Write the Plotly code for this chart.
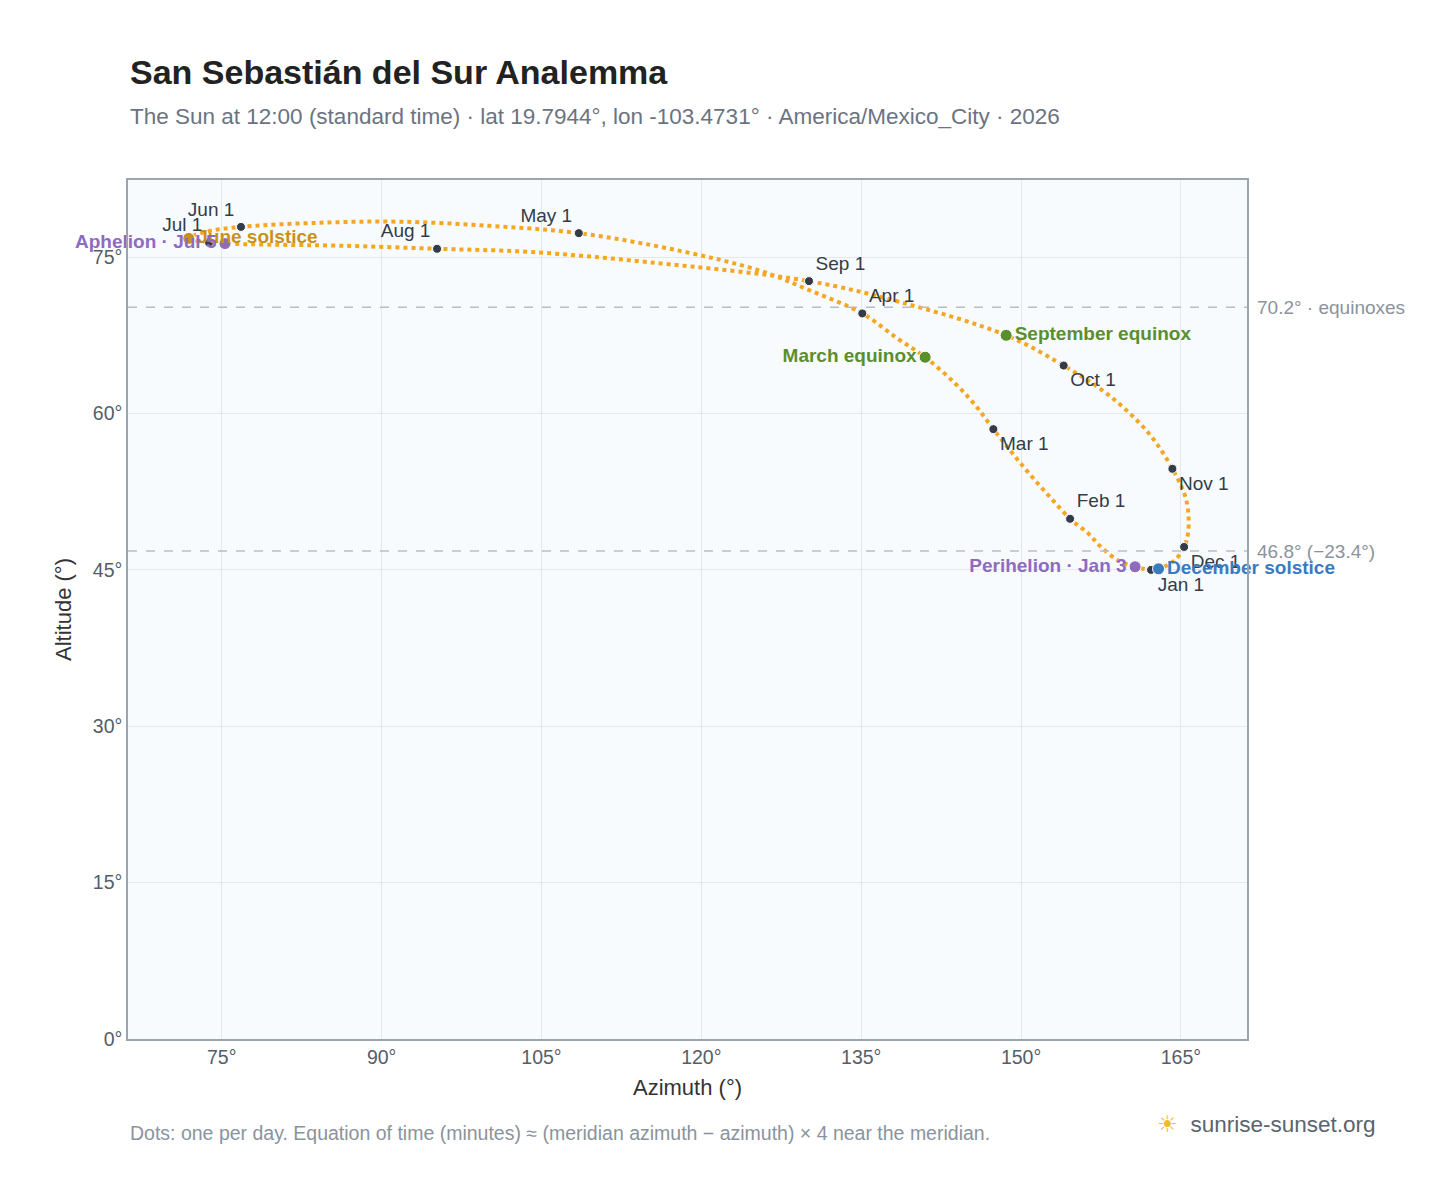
import plotly.graph_objects as go

# sun position at 12:00 (roughly weekly)
path_az = [162.2, 160.7, 159.1, 157.4, 156.3, 154.6, 152.7, 150.8, 149.1, 147.4, 145.7, 143.8, 141.0,
           138.4, 135.1, 130.2, 125.5, 118.0, 108.5, 100.2, 91.7, 84.2, 76.8, 73.4, 71.9, 73.8, 75.3,
           79.5, 86.1, 95.2, 103.9, 115.2, 130.1, 138.6, 148.6, 154.0, 158.3, 161.9, 164.2, 165.5,
           165.7, 165.3, 164.4, 162.9, 162.2]
path_alt = [45.0, 45.3, 45.9, 47.3, 48.5, 49.9, 52.0, 54.2, 56.3, 58.5, 60.8, 62.9, 65.4,
            67.2, 69.6, 71.8, 73.7, 75.6, 77.3, 78.0, 78.4, 78.3, 77.9, 77.4, 76.8, 76.4, 76.3,
            76.2, 76.1, 75.8, 75.5, 74.5, 72.7, 70.7, 67.5, 64.6, 61.7, 58.2, 54.7, 51.7,
            48.8, 47.2, 45.9, 45.1, 45.0]

months = ["Jan 1", "Feb 1", "Mar 1", "Apr 1", "May 1", "Jun 1", "Jul 1", "Aug 1", "Sep 1", "Oct 1", "Nov 1", "Dec 1"]
month_az = [162.2, 154.6, 147.4, 135.1, 108.5, 76.8, 73.8, 95.2, 130.1, 154.0, 164.2, 165.3]
month_alt = [45.0, 49.9, 58.5, 69.6, 77.3, 77.9, 76.4, 75.8, 72.7, 64.6, 54.7, 47.2]
month_pos = ["bottom right", "top right", "bottom right", "top right", "top left", "top left",
             "top left", "top left", "top right", "bottom right", "bottom right", "bottom right"]

events = ["March equinox", "June solstice", "September equinox", "December solstice", "Perihelion · Jan 3", "Aphelion · Jul 5"]
event_az = [141.0, 71.9, 148.6, 162.9, 160.7, 75.3]
event_alt = [65.4, 76.8, 67.5, 45.1, 45.3, 76.3]
event_col = ["#5a8f2e", "#c8921a", "#5a8f2e", "#3a7abf", "#8e6bbf", "#8e6bbf"]
event_pos = ["middle left", "middle right", "middle right", "middle right", "middle left", "middle left"]

x_ticks = [75, 90, 105, 120, 135, 150, 165]
y_ticks = [0, 15, 30, 45, 60, 75]

fig = go.Figure()
fig.add_trace(go.Scatter(x=path_az, y=path_alt, mode="lines", line=dict(color="#f5a623", width=4, dash="dot", shape="spline"),
                         hoverinfo="skip", showlegend=False))
fig.add_trace(go.Scatter(x=month_az, y=month_alt, mode="markers+text", text=months, textposition=month_pos,
                         marker=dict(color="#333c48", size=9, line=dict(color="white", width=1)),
                         textfont=dict(size=19, color="#333c48"), cliponaxis=False, showlegend=False))
fig.add_trace(go.Scatter(x=event_az, y=event_alt, mode="markers+text", text=["<b>%s</b>" % e for e in events],
                         textposition=event_pos, marker=dict(color=event_col, size=12, line=dict(color="white", width=1)),
                         textfont=dict(size=19, color=event_col), cliponaxis=False, showlegend=False))

for val, lbl in [(70.2, "70.2° · equinoxes"), (46.8, "46.8° (−23.4°)")]:
    fig.add_hline(y=val, line=dict(color="#b5bec8", width=1.5, dash="dash"))
    fig.add_annotation(x=1, xref="paper", y=val, text=lbl, showarrow=False, xanchor="left", xshift=8,
                       font=dict(size=19, color="#8a939d"))

fig.add_annotation(x=0, xref="paper", y=1.1257, yref="paper", xanchor="left", yanchor="middle", showarrow=False,
                   text="<b>San Sebastián del Sur Analemma</b>", font=dict(size=34, color="#222"))
fig.add_annotation(x=0, xref="paper", y=1.0745, yref="paper", xanchor="left", yanchor="middle", showarrow=False,
                   text="The Sun at 12:00 (standard time) · lat 19.7944°, lon -103.4731° · America/Mexico_City · 2026",
                   font=dict(size=22.5, color="#6b7380"))
fig.add_annotation(x=0, xref="paper", y=-0.109, yref="paper", xanchor="left", yanchor="middle", showarrow=False,
                   text="Dots: one per day. Equation of time (minutes) ≈ (meridian azimuth − azimuth) × 4 near the meridian.",
                   font=dict(size=19.5, color="#8a939d"))
fig.add_annotation(x=1.117, xref="paper", y=-0.100, yref="paper", xanchor="right", yanchor="middle", showarrow=False,
                   text="<span style='color:#f5b82e'>☀</span>  sunrise-sunset.org", font=dict(size=22.5, color="#5a636e"))

fig.update_layout(
    width=1448, height=1188, margin=dict(l=120, r=209, t=172, b=157),
    paper_bgcolor="white", plot_bgcolor="#f8fbfe",
    font=dict(family="Liberation Sans, Arial, sans-serif", size=19.5, color="#555d68"),
)
fig.update_xaxes(range=[66.2, 171.2], tickvals=x_ticks, ticktext=["%d°" % v for v in x_ticks],
                 title=dict(text="Azimuth (°)", font=dict(size=22, color="#333"), standoff=12), gridcolor="#e3e8ee",
                 showline=True, linecolor="#9aa5b1", linewidth=1.5, mirror=True, zeroline=False, ticks="")
fig.update_yaxes(range=[0, 82.4], tickvals=y_ticks, ticktext=["%d°" % v for v in y_ticks],
                 title=dict(text="Altitude (°)", font=dict(size=22, color="#333")), gridcolor="#e3e8ee",
                 showline=True, linecolor="#9aa5b1", linewidth=1.5, mirror=True, zeroline=False, ticks="")

fig.write_html("out.html")
